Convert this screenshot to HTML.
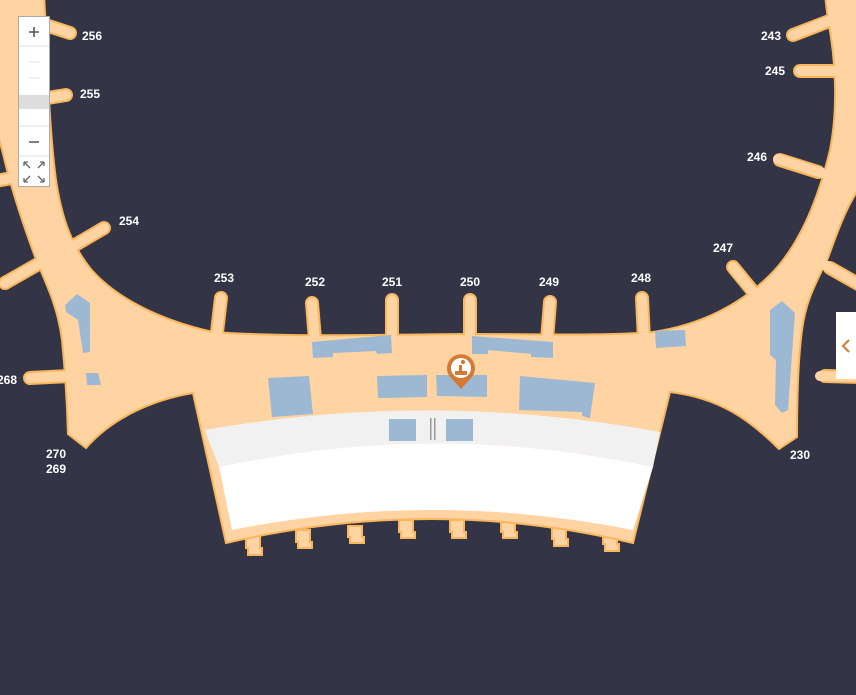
<!DOCTYPE html>
<html><head><meta charset="utf-8"><style>
html,body{margin:0;padding:0;background:#333547;}
svg{display:block}
text{font-family:"Liberation Sans",sans-serif;font-weight:bold;font-size:12px;fill:#fff}
</style></head><body>
<svg width="856" height="695" viewBox="0 0 856 695" xmlns="http://www.w3.org/2000/svg">
<rect width="856" height="695" fill="#333547"/>
<g stroke-linecap="round" fill="none">
<g stroke="#f9b65c" stroke-width="14">
<line x1="30" y1="20" x2="70" y2="33"/>
<line x1="35" y1="100" x2="66" y2="95"/>
<line x1="-10" y1="182" x2="12" y2="178"/>
<line x1="5" y1="283" x2="40" y2="263"/>
<line x1="70" y1="248" x2="104" y2="228"/>
<line x1="30" y1="378" x2="70" y2="376"/>
<line x1="217" y1="332" x2="221" y2="298"/>
<line x1="315" y1="340" x2="312" y2="303"/>
<line x1="392" y1="338" x2="392" y2="300"/>
<line x1="470" y1="338" x2="470" y2="300"/>
<line x1="547" y1="340" x2="550" y2="302"/>
<line x1="644" y1="340" x2="642" y2="298"/>
<line x1="755" y1="294" x2="733" y2="267"/>
<line x1="780" y1="160" x2="818" y2="172"/>
<line x1="800" y1="71" x2="840" y2="71"/>
<line x1="793" y1="35" x2="832" y2="20"/>
<line x1="825" y1="376" x2="860" y2="377"/>
<line x1="830" y1="268" x2="860" y2="285"/>
</g>
</g>
<!-- gate bumps (under main) -->
<g fill="#ffd4a2" stroke="#f9b65c" stroke-width="2">
<path d="M246,536 h14 v12 h2 v7 h-14 v-7 h-2 Z"/>
<path d="M296,530 h14 v12 h2 v6 h-14 v-6 h-2 Z"/>
<path d="M348,526 h14 v11 h2 v6 h-14 v-6 h-2 Z"/>
<path d="M399,520 h14 v12 h2 v6 h-14 v-6 h-2 Z"/>
<path d="M450,520 h14 v12 h2 v6 h-14 v-6 h-2 Z"/>
<path d="M501,520 h14 v12 h2 v6 h-14 v-6 h-2 Z"/>
<path d="M552,526 h14 v13 h2 v7 h-14 v-7 h-2 Z"/>
<path d="M603,530 h14 v14 h2 v7 h-14 v-7 h-2 Z"/>
</g>
<!-- main shape -->
<path d="M44,-5 C47,40 48,120 56,180 C62,220 72,245 90,268 C110,292 150,318 213,332 C300,338 400,334 470,334 C540,334 600,336 653,332 C700,325 740,305 770,275 C800,245 818,200 830,150 C838,110 836,60 828,20 L825,-5 L870,-5 L870,175 C850,195 838,230 828,258 C815,285 806,300 802,330 C798,360 797,400 797,437 L779,449 C750,420 720,398 670,392 L633,543 Q432,495 226,543 L193,393 C150,400 110,420 86,448 L68,434 C67,400 65,370 62,340 C58,310 50,292 37,262 C25,230 15,200 7,170 C2,150 0,140 -5,130 L-5,-5 Z" fill="#ffd4a2" stroke="#f9b65c" stroke-width="2"/>
<g stroke="#ffd4a2" stroke-width="10" stroke-linecap="round">
<line x1="30" y1="20" x2="70" y2="33"/>
<line x1="35" y1="100" x2="66" y2="95"/>
<line x1="-10" y1="182" x2="12" y2="178"/>
<line x1="5" y1="283" x2="40" y2="263"/>
<line x1="70" y1="248" x2="104" y2="228"/>
<line x1="30" y1="378" x2="70" y2="376"/>
<line x1="217" y1="334" x2="221" y2="298"/>
<line x1="315" y1="342" x2="312" y2="303"/>
<line x1="392" y1="340" x2="392" y2="300"/>
<line x1="470" y1="340" x2="470" y2="300"/>
<line x1="547" y1="342" x2="550" y2="302"/>
<line x1="644" y1="342" x2="642" y2="298"/>
<line x1="757" y1="297" x2="733" y2="267"/>
<line x1="778" y1="159" x2="822" y2="173"/>
<line x1="800" y1="71" x2="842" y2="71"/>
<line x1="793" y1="35" x2="834" y2="19"/>
<line x1="820" y1="376" x2="860" y2="377"/>
<line x1="825" y1="265" x2="860" y2="285"/>
</g>
<!-- grey band and white hall -->
<path d="M205,430 Q432,390 660,432 L653,467 Q436,420 219,467 Z" fill="#f1f1f1"/>
<path d="M219,467 Q436,420 653,467 L633,530 Q432,490 232,530 Z" fill="#ffffff"/>
<!-- blue blocks -->
<g fill="#9cb8d3">
<path d="M312,342 L391,335 L392,353 L377,354 L376,351 L333,353 L333,357 L313,358 Z"/>
<path d="M472,336 L553,342 L553,358 L531,357 L531,354 L488,350 L488,354 L472,354 Z"/>
<path d="M377,376 L427,375 L427,397 L378,398 Z"/>
<path d="M436,375 L487,375 L487,397 L437,396 Z"/>
<path d="M268,378 L309,376 L313,414 L272,417 Z"/>
<path d="M520,376 L595,383 L590,418 L582,416 L582,412 L519,410 Z"/>
<rect x="389" y="419" width="27" height="22"/>
<rect x="446" y="419" width="27" height="22"/>
<path d="M655,331 L685,330 L686,346 L656,348 Z"/>
<path d="M65,305 L77,294 L90,303 L90,352 L83,353 L78,320 L66,312 Z"/>
<path d="M86,373 L98,373 L101,385 L87,385 Z"/>
<path d="M770,310 L782,301 L795,313 L788,410 L782,413 L775,405 L776,360 L770,355 Z"/>
</g>
<rect x="430" y="418" width="1.5" height="22" fill="#999"/><rect x="434" y="418" width="1.5" height="22" fill="#999"/>
<!-- pin -->
<path d="M461,389 L451,378 A14,14 0 1 1 471,378 Z" fill="#d47a34"/>
<circle cx="461" cy="368" r="10" fill="#fff"/>
<rect x="455" y="371" width="12" height="4" fill="#d47a34"/><rect x="459" y="365" width="3" height="7" fill="#d47a34"/><circle cx="463" cy="362" r="2.2" fill="#d47a34"/>
<!-- labels -->
<text x="82" y="40">256</text><text x="80" y="98">255</text><text x="119" y="225">254</text>
<text x="214" y="282">253</text><text x="305" y="286">252</text><text x="382" y="286">251</text>
<text x="460" y="286">250</text><text x="539" y="286">249</text><text x="631" y="282">248</text>
<text x="713" y="252">247</text><text x="747" y="161">246</text><text x="765" y="75">245</text>
<text x="761" y="40">243</text><text x="-3" y="384">268</text><text x="46" y="458">270</text>
<text x="46" y="473">269</text><text x="790" y="459">230</text>
<!-- zoom control -->
<rect x="18.5" y="16.5" width="31" height="170" fill="#fff" stroke="#aaa"/>
<line x1="19" y1="46" x2="49" y2="46" stroke="#ddd"/><line x1="19" y1="126" x2="49" y2="126" stroke="#ddd"/><line x1="19" y1="156" x2="49" y2="156" stroke="#ddd"/>
<line x1="28" y1="62" x2="40" y2="62" stroke="#e3e3e3"/><line x1="28" y1="78" x2="40" y2="78" stroke="#e3e3e3"/>
<rect x="19" y="95" width="30" height="14" fill="#ddd"/>
<path d="M29,32 H39 M34,27 V37" stroke="#555" stroke-width="1.5"/>
<path d="M29,142 H39" stroke="#555" stroke-width="1.5"/>
<g stroke="#666" stroke-width="1.3" fill="none">
<path d="M24,162 L30,168 M24,162 h4 M24,162 v4"/><path d="M44,162 L38,168 M44,162 h-4 M44,162 v4"/>
<path d="M24,182 L30,176 M24,182 h4 M24,182 v-4"/><path d="M44,182 L38,176 M44,182 h-4 M44,182 v-4"/>
</g>
<!-- right tab -->
<rect x="836" y="312" width="22" height="67" fill="#fff"/>
<path d="M849,340 L843,346 L849,352" stroke="#d47a34" stroke-width="2" fill="none"/>
</svg>
</body></html>
